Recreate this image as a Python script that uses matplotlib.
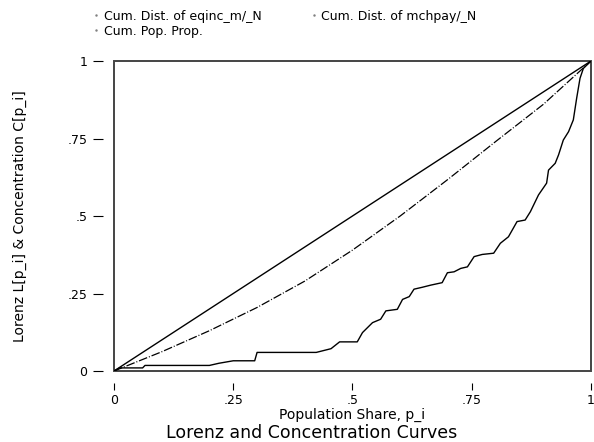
import numpy as np
import matplotlib.pyplot as plt
from matplotlib.lines import Line2D
from matplotlib.patches import Rectangle

plt.rcParams['font.family'] = ['DejaVu Sans']

# cumulative population share
pop_share = [0, 1]

# concentration curve of eqinc_m
eqinc_x = [0, 0.1, 0.2, 0.3, 0.4, 0.5, 0.6, 0.7, 0.8, 0.9, 0.95, 0.98, 1]
eqinc_y = [0, 0.062, 0.13, 0.205, 0.29, 0.39, 0.5, 0.618, 0.74, 0.86, 0.93, 0.972, 1]

# concentration curve of mchpay
mchpay_x = [0, 0.012, 0.06, 0.065, 0.2, 0.22, 0.25, 0.295, 0.30, 0.424, 0.455,
            0.473, 0.51, 0.521, 0.542, 0.559, 0.570, 0.594, 0.605, 0.619, 0.629,
            0.646, 0.664, 0.688, 0.699, 0.713, 0.727, 0.741, 0.755, 0.772, 0.796,
            0.81, 0.827, 0.845, 0.862, 0.873, 0.89, 0.907, 0.911, 0.925, 0.932,
            0.942, 0.953, 0.963, 0.97, 0.977, 0.984, 1]
mchpay_y = [0, 0.01, 0.01, 0.018, 0.018, 0.025, 0.033, 0.033, 0.06, 0.06, 0.072,
            0.094, 0.094, 0.124, 0.156, 0.167, 0.194, 0.199, 0.231, 0.24, 0.264,
            0.27, 0.277, 0.285, 0.317, 0.32, 0.331, 0.336, 0.369, 0.376, 0.38,
            0.412, 0.433, 0.482, 0.487, 0.514, 0.568, 0.606, 0.648, 0.67, 0.697,
            0.745, 0.772, 0.81, 0.88, 0.944, 0.976, 1]

ticks = [0, 0.25, 0.5, 0.75, 1]
tick_labels = ['0', '.25', '.5', '.75', '1']

fig = plt.figure(figsize=(5.94, 4.42), dpi=100)
ax = fig.add_axes([0.1919, 0.1606, 0.8030, 0.7014])

ax.plot(pop_share, pop_share, color='black', lw=1.0)
ax.plot(eqinc_x, eqinc_y, color='black', lw=0.9, linestyle=(0, (7, 1.5, 0.8, 1.5)))
ax.plot(mchpay_x, mchpay_y, color='black', lw=1.0)

ax.set_xlim(0, 1)
ax.set_ylim(0, 1)

# detached ticks: push spines outward and hide them, then draw the box separately
ax.spines['left'].set_position(('outward', 7.9))
ax.spines['bottom'].set_position(('outward', 8.6))
for s in ax.spines.values():
    s.set_visible(False)
ax.add_patch(Rectangle((0, 0), 1, 1, transform=ax.transAxes, fill=False,
                       edgecolor='#444444', lw=1.4, clip_on=False))

ax.set_xticks(ticks)
ax.set_xticklabels(tick_labels)
ax.set_yticks(ticks)
ax.set_yticklabels(tick_labels)
ax.tick_params(axis='y', length=7.2, width=0.8, pad=4, labelsize=9)
ax.tick_params(axis='x', length=5, width=0.8, pad=3, labelsize=9)

ax.set_xlabel('Population Share, p_i', fontsize=10, labelpad=0.3)
ax.set_ylabel('Lorenz L[p_i] & Concentration C[p_i]', fontsize=10, labelpad=29)

fig.text(0.525, 0.0, 'Lorenz and Concentration Curves', fontsize=12.5,
         ha='center', va='bottom')

handles = [Line2D([], [], ls='none', marker='.', ms=1.5, color='gray'),
           Line2D([], [], ls='none', marker='.', ms=1.5, color='gray'),
           Line2D([], [], ls='none', marker='.', ms=1.5, color='gray')]
labels = ['Cum. Dist. of eqinc_m/_N', 'Cum. Pop. Prop.', 'Cum. Dist. of mchpay/_N']
fig.legend(handles, labels, ncol=2, loc='upper left', bbox_to_anchor=(0.143, 0.995),
           frameon=False, fontsize=9, handlelength=0.6, handletextpad=0.3,
           columnspacing=3.9, labelspacing=0.15, borderaxespad=0.2)

fig.savefig('out.png', dpi=100)
